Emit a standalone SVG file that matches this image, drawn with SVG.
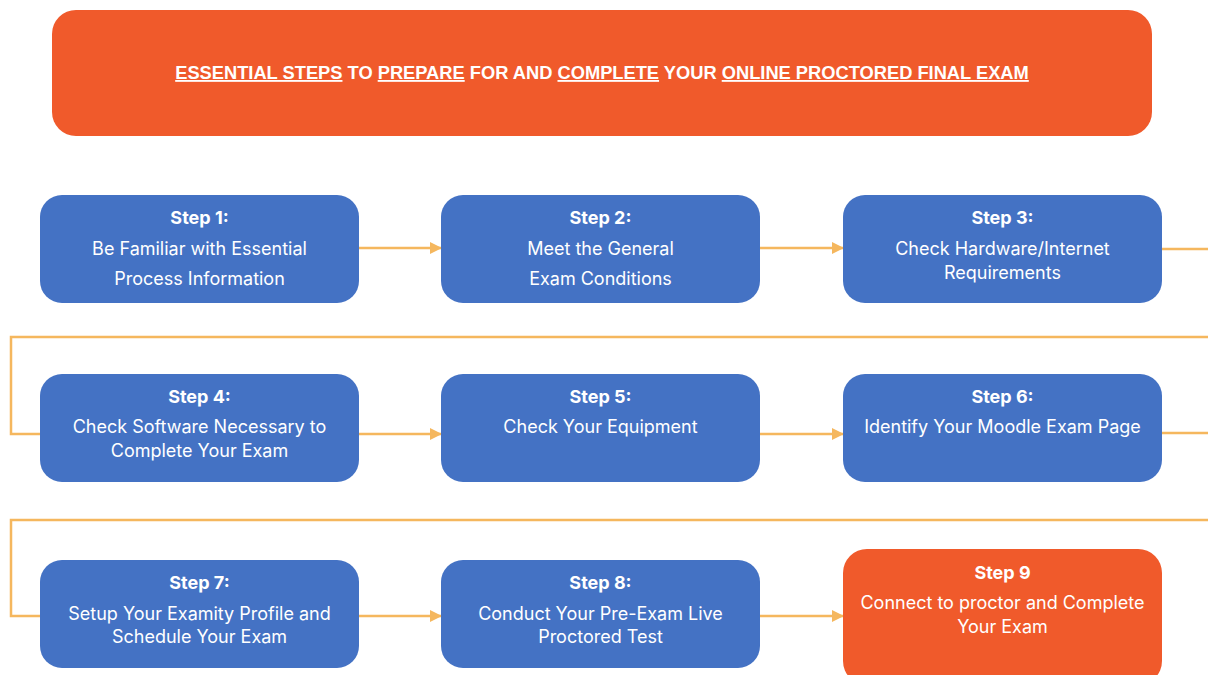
<svg xmlns="http://www.w3.org/2000/svg" width="1208" height="675" viewBox="0 0 1208 675">
<defs>
<style>
.node{fill:#4472C4;}
.final{fill:#F05A2B;}
.t{font-family:Inter,"Liberation Sans",Arial,sans-serif;fill:#ffffff;text-anchor:middle;font-size:18px;}
.b{font-weight:700;}
.title{font-family:"Liberation Sans",Arial,sans-serif;font-weight:700;font-size:18.3px;fill:#ffffff;text-anchor:middle;}
.u{text-decoration:underline;}
.c{fill:none;stroke:#F5B75E;stroke-width:2.5;}
</style>
<marker id="ah" markerWidth="12" markerHeight="12" refX="11" refY="6" orient="auto" markerUnits="userSpaceOnUse">
<path d="M0,0 L12,6 L0,12 Z" fill="#F5B75E"/>
</marker>
</defs>
<rect width="1208" height="675" fill="#ffffff"/>
<g id="header">
<rect x="52" y="10" width="1100" height="126" rx="24" class="final"/>
<text x="602" y="79" class="title"><tspan class="u">ESSENTIAL STEPS</tspan> TO <tspan class="u">PREPARE</tspan> FOR AND <tspan class="u">COMPLETE</tspan> YOUR <tspan class="u">ONLINE PROCTORED FINAL EXAM</tspan></text>
</g>
<g id="connectors">
<line x1="359" y1="248" x2="441" y2="248" class="c" marker-end="url(#ah)"/>
<line x1="760" y1="248" x2="843" y2="248" class="c" marker-end="url(#ah)"/>
<polyline points="1162,249 1208,249" class="c"/>
<polyline points="1208,337 11,337 11,434 40,434" class="c"/>
<line x1="359" y1="434" x2="441" y2="434" class="c" marker-end="url(#ah)"/>
<line x1="760" y1="434" x2="843" y2="434" class="c" marker-end="url(#ah)"/>
<polyline points="1162,433 1208,433" class="c"/>
<polyline points="1208,520 11,520 11,616 40,616" class="c"/>
<line x1="359" y1="616" x2="441" y2="616" class="c" marker-end="url(#ah)"/>
<line x1="760" y1="616" x2="843" y2="616" class="c" marker-end="url(#ah)"/>
</g>
<g id="step1">
<rect x="40" y="195" width="319" height="108" rx="22" class="node"/>
<text x="199.5" y="224" class="t b">Step 1:</text>
<text x="199.5" y="255" class="t">Be Familiar with Essential</text>
<text x="199.5" y="285" class="t">Process Information</text>
</g>
<g id="step2">
<rect x="441" y="195" width="319" height="108" rx="22" class="node"/>
<text x="600.5" y="224" class="t b">Step 2:</text>
<text x="600.5" y="255" class="t">Meet the General</text>
<text x="600.5" y="285" class="t">Exam Conditions</text>
</g>
<g id="step3">
<rect x="843" y="195" width="319" height="108" rx="22" class="node"/>
<text x="1002.5" y="224" class="t b">Step 3:</text>
<text x="1002.5" y="255" class="t">Check Hardware/Internet</text>
<text x="1002.5" y="279" class="t">Requirements</text>
</g>
<g id="step4">
<rect x="40" y="374" width="319" height="108" rx="22" class="node"/>
<text x="199.5" y="403" class="t b">Step 4:</text>
<text x="199.5" y="433" class="t">Check Software Necessary to</text>
<text x="199.5" y="457" class="t">Complete Your Exam</text>
</g>
<g id="step5">
<rect x="441" y="374" width="319" height="108" rx="22" class="node"/>
<text x="600.5" y="403" class="t b">Step 5:</text>
<text x="600.5" y="433" class="t">Check Your Equipment</text>
</g>
<g id="step6">
<rect x="843" y="374" width="319" height="108" rx="22" class="node"/>
<text x="1002.5" y="403" class="t b">Step 6:</text>
<text x="1002.5" y="433" class="t">Identify Your Moodle Exam Page</text>
</g>
<g id="step7">
<rect x="40" y="560" width="319" height="108" rx="22" class="node"/>
<text x="199.5" y="589" class="t b">Step 7:</text>
<text x="199.5" y="620" class="t">Setup Your Examity Profile and</text>
<text x="199.5" y="643" class="t">Schedule Your Exam</text>
</g>
<g id="step8">
<rect x="441" y="560" width="319" height="108" rx="22" class="node"/>
<text x="600.5" y="589" class="t b">Step 8:</text>
<text x="600.5" y="620" class="t">Conduct Your Pre-Exam Live</text>
<text x="600.5" y="643" class="t">Proctored Test</text>
</g>
<g id="step9">
<rect x="843" y="549" width="319" height="136" rx="24" class="final"/>
<text x="1002.5" y="579" class="t b">Step 9</text>
<text x="1002.5" y="609" class="t">Connect to proctor and Complete</text>
<text x="1002.5" y="633" class="t">Your Exam</text>
</g>
</svg>
